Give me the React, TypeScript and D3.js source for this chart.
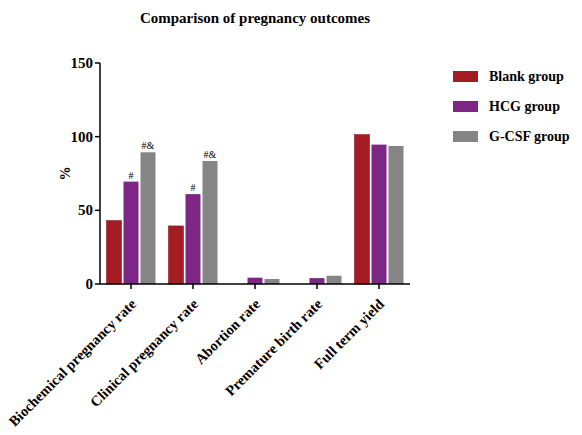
import React from "react";
import * as d3 from "d3";

const categories = [
  "Biochemical pregnancy rate",
  "Clinical pregnancy rate",
  "Abortion rate",
  "Premature birth rate",
  "Full term yield",
];
const groups = ["Blank group", "HCG group", "G-CSF group"];
const blank = [43, 39.4, 0, 0, 101.4];
const hcg = [69.5, 61, 4.3, 4, 94.6];
const gcsf = [89.4, 83.5, 3.4, 5.6, 93.7];
const annotHcg = ["#", "#", "", "", ""];
const annotGcsf = ["#&", "#&", "", "", ""];
const yTicks = [0, 50, 100, 150];
const colors = ["#A51D24", "#7D2683", "#858585"];

export default function App() {
  const W = 582, H = 435;
  const left = 100, right = 410, top = 63, bottom = 284;
  const x = d3.scaleBand<string>().domain(categories).range([left, right]);
  const y = d3.scaleLinear().domain([0, 150]).range([bottom, top]);
  const series = [blank, hcg, gcsf];
  const barW = 15, gap = 2;
  const font = "Liberation Serif, DejaVu Serif, serif";
  return (
    <svg width={W} height={H} style={{ position: "absolute", left: 0, top: 0, background: "#fff", fontFamily: font, fontWeight: "bold" }}>
      <text x={255} y={23} textAnchor="middle" fontSize={15}>Comparison of pregnancy outcomes</text>
      {categories.map((c, i) => {
        const cx = x(c)! + x.bandwidth() / 2;
        return (
          <g key={c}>
            {series.map((s, j) => {
              const bx = cx - barW / 2 + (j - 1) * (barW + gap);
              const v = s[i];
              if (v <= 0) return null;
              return (
                <rect key={j} x={bx} y={y(v)} width={barW} height={bottom - y(v)} fill={colors[j]} stroke={j === 0 ? "#8A161C" : "none"} strokeWidth={0.6} />
              );
            })}
            {annotHcg[i] && (
              <text x={cx} y={y(hcg[i]) - 3} textAnchor="middle" fontSize={10} fontWeight="normal">{annotHcg[i]}</text>
            )}
            {annotGcsf[i] && (
              <text x={cx + barW + gap} y={y(gcsf[i]) - 3} textAnchor="middle" fontSize={10} fontWeight="normal">{annotGcsf[i]}</text>
            )}
            <line x1={cx} x2={cx} y1={bottom} y2={bottom + 5} stroke="#000" strokeWidth={1.5} />
            <text transform={`translate(${cx + 6},${bottom + 21}) rotate(-45)`} textAnchor="end" fontSize={14.5}>{c}</text>
          </g>
        );
      })}
      <line x1={left} x2={left} y1={top} y2={bottom} stroke="#000" strokeWidth={1.5} />
      <line x1={left} x2={right} y1={bottom} y2={bottom} stroke="#000" strokeWidth={1.5} />
      {yTicks.map((t) => (
        <g key={t}>
          <line x1={left - 5} x2={left} y1={y(t)} y2={y(t)} stroke="#000" strokeWidth={1.5} />
          <text x={left - 7} y={y(t) + 5} textAnchor="end" fontSize={15}>{t}</text>
        </g>
      ))}
      <text transform={`translate(70,${(top + bottom) / 2}) rotate(-90)`} textAnchor="middle" fontSize={14}>%</text>
      {groups.map((g, j) => (
        <g key={g}>
          <rect x={453} y={71 + j * 30} width={25} height={11} fill={colors[j]} />
          <text x={489} y={81 + j * 30} fontSize={14}>{g}</text>
        </g>
      ))}
    </svg>
  );
}
